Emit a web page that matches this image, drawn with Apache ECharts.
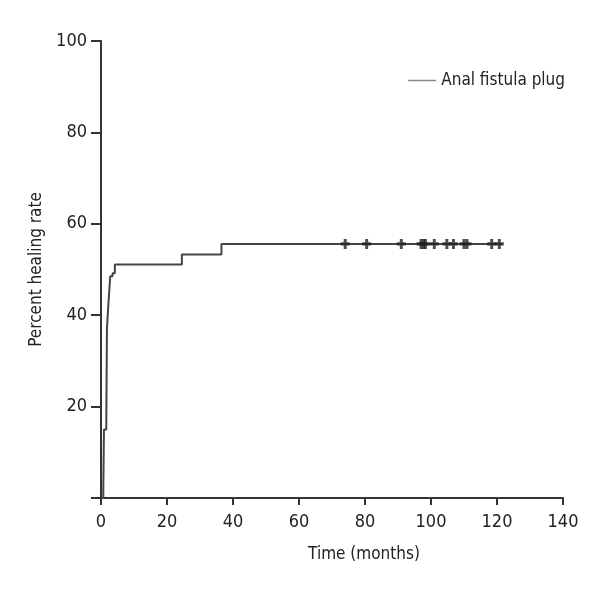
<!DOCTYPE html>
<html lang="en">
<head>
    <meta charset="UTF-8">
    <title>Anal fistula plug - healing rate</title>
    <style>
        html, body, #main {
            width: 100%;
            height: 100%;
            margin: 0;
            padding: 0;
            background: #fff;
        }
    </style>
    <script src="https://cdn.jsdelivr.net/npm/echarts@6.0.0/dist/echarts.min.js"></script>
</head>
<body>
    <div id="main"></div>
    <script>
        // Kaplan-Meier style step curve (time in months, percent healed)
        const eventTimes = [0, 0.7, 0.9, 1.6, 1.8, 2.2, 2.8, 3.5, 4.2, 24.5, 36.5, 121.5];
        const healRates  = [0, 2, 15, 16, 37, 42, 48.5, 49.2, 51.1, 53.3, 55.6, 55.6];
        // censored observations
        const censorTimes = [74, 80.5, 91, 97, 97.7, 98.3, 101, 104.8, 106.8, 110, 110.9, 118.4, 120.7];
        const censorRate = 55.6;

        const font = '"Liberation Sans Narrow", "DejaVu Sans Condensed", sans-serif';
        const axisColor = '#333';

        var chart = echarts.init(document.getElementById('main'));

        var option = {
            animation: false,
            textStyle: { fontFamily: font },
            grid: { left: 101, right: 37, top: 41, bottom: 102 },
            legend: {
                top: 67,
                right: 30,
                icon: 'rect',
                itemWidth: 28,
                itemHeight: 1.5,
                itemGap: 8,
                textStyle: { fontFamily: font, fontSize: 17, color: '#222' },
                data: [{ name: 'Anal fistula plug', itemStyle: { color: '#888' } }]
            },
            xAxis: {
                type: 'value',
                min: 0,
                max: 140,
                interval: 20,
                name: 'Time (months)',
                nameLocation: 'middle',
                nameGap: 48,
                nameTextStyle: { fontFamily: font, fontSize: 17, color: '#222', padding: [0, 0, 0, 64] },
                axisLine: { show: true, lineStyle: { color: axisColor, width: 2 } },
                axisTick: { show: true, length: 7, lineStyle: { color: axisColor, width: 2 } },
                axisLabel: { fontFamily: font, fontSize: 18, color: '#222', margin: 15 },
                splitLine: { show: false }
            },
            yAxis: {
                type: 'value',
                min: 0,
                max: 100,
                interval: 20,
                name: 'Percent healing rate',
                nameLocation: 'middle',
                nameGap: 54,
                nameTextStyle: { fontFamily: font, fontSize: 17, color: '#222' },
                axisLine: { show: true, lineStyle: { color: axisColor, width: 2 } },
                axisTick: { show: true, length: 10, lineStyle: { color: axisColor, width: 2 } },
                axisLabel: {
                    fontFamily: font, fontSize: 18, color: '#222', margin: 14,
                    formatter: function (v) { return v === 0 ? '' : v; }
                },
                splitLine: { show: false }
            },
            series: [
                {
                    name: 'Anal fistula plug',
                    type: 'line',
                    step: 'end',
                    symbol: 'none',
                    data: eventTimes.map((t, i) => [t, healRates[i]]),
                    lineStyle: { color: '#444', width: 2 },
                    itemStyle: { color: '#888' }
                },
                {
                    name: 'censored',
                    type: 'scatter',
                    symbol: 'path://M3,0h3v3h3v3h-3v3h-3v-3h-3v-3h3z',
                    symbolSize: [9, 10],
                    data: censorTimes.map(t => [t, censorRate]),
                    itemStyle: { color: '#222' },
                    z: 3
                }
            ]
        };

        chart.setOption(option);
    </script>
</body>
</html>
